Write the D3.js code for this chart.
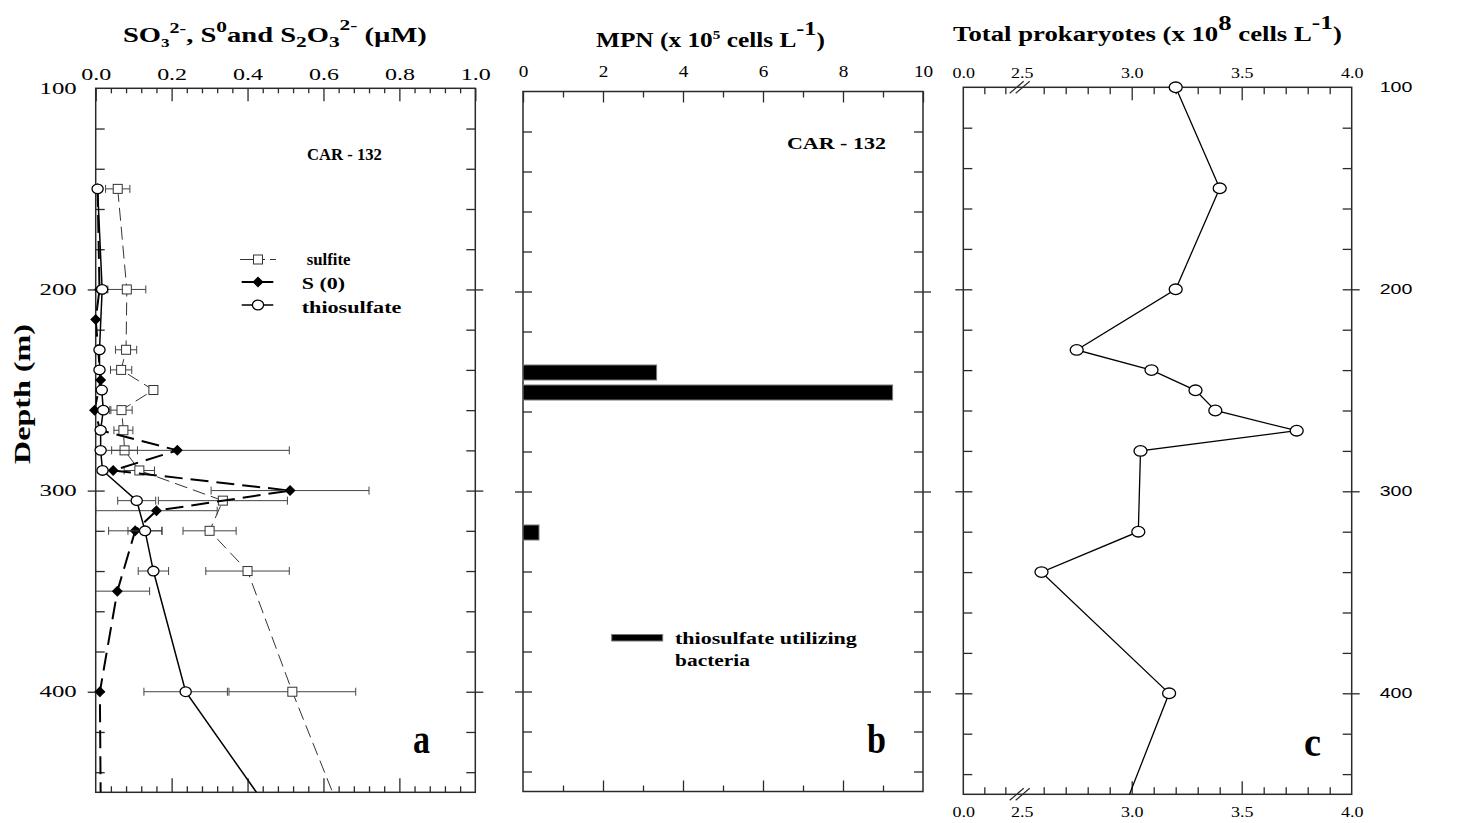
<!DOCTYPE html>
<html><head><meta charset="utf-8">
<script src="https://cdn.jsdelivr.net/npm/d3@7"></script>
<style>
body{margin:0;background:#fff}
svg{display:block}
text{fill:#000}
</style>
</head><body>
<svg id="chart" width="1460" height="823" font-family='"Liberation Serif","Times New Roman",serif'></svg>
<script>
// ---------------- DATA ----------------
// Panel a : sulfite, S(0), thiosulfate (µM) vs depth (m)
const sulfiteDepth = [150, 200, 230, 240, 250, 260, 270, 280, 290, 305, 320, 340, 400, 500];
const sulfiteVal   = [0.058, 0.082, 0.080, 0.067, 0.152, 0.068, 0.073, 0.076, 0.115, 0.335, 0.300, 0.400, 0.518, 0.730];
const sulfiteErr   = [0.032, 0.050, 0.028, 0.028, 0, 0.028, 0.025, 0.034, 0.040, 0.170, 0.070, 0.110, 0.167, 0];

const s0Depth = [150, 200, 215, 245, 260, 270, 280, 290, 300, 310, 320, 350, 400, 500];
const s0Val   = [0.005, 0.010, 0.000, 0.013, -0.003, 0.012, 0.215, 0.046, 0.512, 0.160, 0.104, 0.057, 0.011, 0.015];
const s0Err   = [0, 0, 0, 0, 0.040, 0, 0.295, 0, 0.208, 0.160, 0.070, 0.085, 0, 0];

const thioDepth = [150, 200, 230, 240, 250, 260, 270, 280, 290, 305, 320, 340, 400, 500];
const thioVal   = [0.005, 0.017, 0.010, 0.010, 0.016, 0.020, 0.013, 0.013, 0.018, 0.108, 0.130, 0.152, 0.237, 0.610];
const thioErr   = [0, 0, 0, 0, 0, 0, 0, 0, 0, 0.050, 0.045, 0.040, 0.110, 0];

// Panel b : MPN of thiosulfate utilizing bacteria (x10^5 cells/L)
const mpnDepth = [240, 250, 320];
const mpnVal   = [3.34, 9.24, 0.40];

// Panel c : total prokaryotes (x10^8 cells/L)
const totDepth = [100, 150, 200, 230, 240, 250, 260, 270, 280, 320, 340, 400, 500];
const totVal   = [3.20, 3.40, 3.20, 2.75, 3.09, 3.29, 3.38, 3.75, 3.04, 3.03, 2.59, 3.17, 2.81];

// Axis ticks / labels
const depthDomain = [100, 450];
const depthMinor  = [120, 140, 160, 180, 200, 220, 240, 260, 280, 300, 320, 340, 360, 380, 400, 420, 440];
const depthMajor  = [200, 300, 400];
const depthLabels = [100, 200, 300, 400];
const aMajor = [0, 0.2, 0.4, 0.6, 0.8, 1.0];
const aMinor = [0.04,0.08,0.12,0.16,0.24,0.28,0.32,0.36,0.44,0.48,0.52,0.56,0.64,0.68,0.72,0.76,0.84,0.88,0.92,0.96];
const bMajor = [0, 2, 4, 6, 8, 10];
const bMinor = [1, 3, 5, 7, 9];
const cLabelVals = [0, 2.5, 3.0, 3.5, 4.0];
const cLabels    = ["0.0", "2.5", "3.0", "3.5", "4.0"];
const cMajor = [3.0, 3.5];
const cMinor = [0.9, 1.8, 2.6, 2.7, 2.8, 2.9, 3.1, 3.2, 3.3, 3.4, 3.6, 3.7, 3.8, 3.9];

// ---------------- SCALES ----------------
const yA = d3.scaleLinear().domain(depthDomain).range([88.3, 792.3]);
const yB = d3.scaleLinear().domain(depthDomain).range([91.5, 791.5]);
const yC = d3.scaleLinear().domain(depthDomain).range([87.3, 794.3]);
const xA = d3.scaleLinear().domain([0, 1]).range([95.7, 475.3]);
const xB = d3.scaleLinear().domain([0, 10]).range([523, 923]);
const xC = d3.scaleLinear().domain([0, 2.5, 4.0]).range([963.3, 1021.7, 1351.7]);

const SERIF = '"Liberation Serif","Times New Roman",serif';
const SANS = '"Liberation Sans",Arial,sans-serif';
const svg = d3.select("#chart");
const AX = "#2a2a2a";

function fit(sel, x0, x1, base) {
  const bb = sel.node().getBBox();
  const s = (x1 - x0) / bb.width;
  sel.attr("transform", `translate(${x0 - bb.x * s},${base}) scale(${s},1)`);
  return sel;
}
function stretchLabels(g, sx) {
  g.selectAll(".tick text").each(function () {
    const t = d3.select(this);
    const x = +t.attr("x") || 0;
    t.attr("x", x / sx).attr("transform", `scale(${sx},1)`);
  });
}
function styleAxis(g, fs, family) {
  g.select(".domain").remove();
  g.attr("font-family", family || SERIF);
  g.selectAll(".tick line").attr("stroke", AX).attr("stroke-width", 1.3);
  g.selectAll(".tick text").attr("font-size", fs).style("font-family", family || SERIF).attr("fill", "#000");
}

function frame(x, y) {
  const xr = x.range(), yr = y.range();
  const x0 = xr[0], x1 = xr[xr.length - 1];
  const g = svg.append("g");
  const add = (axis, tx) => g.append("g").attr("transform", `translate(${tx},0)`).call(axis).call(s => styleAxis(s, 14));
  add(d3.axisLeft(y).tickValues(depthMinor).tickSize(-9).tickSizeOuter(0).tickFormat(""), x0);
  add(d3.axisLeft(y).tickValues(depthMajor).tickSize(8).tickSizeOuter(0).tickFormat(""), x0);
  add(d3.axisRight(y).tickValues(depthMinor).tickSize(-9).tickSizeOuter(0).tickFormat(""), x1);
  add(d3.axisRight(y).tickValues(depthMajor).tickSize(8).tickSizeOuter(0).tickFormat(""), x1);
  g.append("rect").attr("x", x0).attr("y", yr[0]).attr("width", x1 - x0).attr("height", yr[1] - yr[0])
    .attr("fill", "none").attr("stroke", AX).attr("stroke-width", 1.5);
  return g;
}
function hAxis(x, yPos, vals, len, top, labels, fs, sx, pad, family) {
  const ax = (top ? d3.axisTop(x) : d3.axisBottom(x)).tickValues(vals).tickSize(-len).tickSizeOuter(0);
  if (labels) ax.tickFormat(labels).tickPadding(pad); else ax.tickFormat("");
  const g = svg.append("g").attr("transform", `translate(0,${yPos})`).call(ax);
  styleAxis(g, fs, family);
  if (labels) stretchLabels(g, sx);
  return g;
}

// ================= PANEL A =================
frame(xA, yA);
{
  const g = svg.append("g").attr("transform", `translate(${xA(0)},0)`)
    .call(d3.axisLeft(yA).tickValues(depthLabels).tickSize(0).tickPadding(19).tickFormat(d3.format("d")));
  styleAxis(g, 16); g.selectAll(".tick line").remove(); stretchLabels(g, 1.55);
}
hAxis(xA, yA.range()[0], aMinor, 5, true, null);
hAxis(xA, yA.range()[0], aMajor, 13, true, d3.format(".1f"), 16, 1.5, 8);
hAxis(xA, yA.range()[1], aMinor, 6, false, null);
hAxis(xA, yA.range()[1], aMajor.slice(1, 5), 14, false, null);

svg.append("clipPath").attr("id", "clipA").append("rect")
  .attr("x", xA(0)).attr("y", yA.range()[0] - 20).attr("width", xA(1) - xA(0)).attr("height", yA.range()[1] - yA.range()[0] + 20);

function series(depth, val, err, opts) {
  const pts = depth.map((d, i) => ({ d, v: val[i], e: err[i] }));
  const g = svg.append("g");
  g.append("path").datum(pts).attr("clip-path", "url(#clipA)")
    .attr("d", d3.line().x(p => xA(p.v)).y(p => yA(p.d)))
    .attr("fill", "none").attr("stroke", opts.stroke).attr("stroke-width", opts.width)
    .attr("stroke-dasharray", opts.dash || null);
  const inside = pts.filter(p => p.d <= depthDomain[1]);
  const eb = g.append("g").attr("clip-path", "url(#clipA)").attr("stroke", "#444").attr("stroke-width", 1);
  inside.filter(p => p.e > 0).forEach(p => {
    const y = yA(p.d);
    eb.append("line").attr("x1", xA(p.v - p.e)).attr("x2", xA(p.v + p.e)).attr("y1", y).attr("y2", y);
    eb.append("line").attr("x1", xA(p.v - p.e)).attr("x2", xA(p.v - p.e)).attr("y1", y - 4).attr("y2", y + 4);
    eb.append("line").attr("x1", xA(p.v + p.e)).attr("x2", xA(p.v + p.e)).attr("y1", y - 4).attr("y2", y + 4);
  });
  const m = g.selectAll(".m").data(inside).join("g").attr("transform", p => `translate(${xA(p.v)},${yA(p.d)})`);
  opts.marker(m);
}
const squareMk = s => s.append("rect").attr("x", -4.5).attr("y", -4.5).attr("width", 9).attr("height", 9)
  .attr("fill", "#fff").attr("stroke", "#333").attr("stroke-width", 1);
const diamondMk = s => s.append("path").attr("d", "M0,-5.5L5.5,0L0,5.5L-5.5,0Z").attr("fill", "#000");
const circleMk = (s, rx, ry) => s.append("ellipse").attr("rx", rx || 5.6).attr("ry", ry || 4.8)
  .attr("fill", "#fff").attr("stroke", "#000").attr("stroke-width", 1.3);

series(sulfiteDepth, sulfiteVal, sulfiteErr, { stroke: "#333", width: 1, dash: "13,6", marker: squareMk });
series(s0Depth, s0Val, s0Err, { stroke: "#000", width: 2, dash: "18,8", marker: diamondMk });
series(thioDepth, thioVal, thioErr, { stroke: "#000", width: 1.5, marker: s => circleMk(s) });

// legend a
{
  const g = svg.append("g");
  g.append("line").attr("x1", 240).attr("x2", 265).attr("y1", 259.5).attr("y2", 259.5).attr("stroke", "#333");
  g.append("line").attr("x1", 270).attr("x2", 276).attr("y1", 259.5).attr("y2", 259.5).attr("stroke", "#333");
  squareMk(g.append("g").attr("transform", "translate(258,259.5)"));
  g.append("line").attr("x1", 241.7).attr("x2", 273.3).attr("y1", 282).attr("y2", 282).attr("stroke", "#000").attr("stroke-width", 2);
  diamondMk(g.append("g").attr("transform", "translate(258,282)"));
  g.append("line").attr("x1", 241.7).attr("x2", 273.3).attr("y1", 305).attr("y2", 305).attr("stroke", "#000").attr("stroke-width", 1.3);
  circleMk(g.append("g").attr("transform", "translate(258,305)"));
  fit(g.append("text").attr("font-size", 17).attr("font-weight", "bold").text("sulfite"), 306.7, 351, 265);
  fit(g.append("text").attr("font-size", 17).attr("font-weight", "bold").text("S (0)"), 301.7, 345, 289);
  fit(g.append("text").attr("font-size", 17).attr("font-weight", "bold").text("thiosulfate"), 301.7, 402, 312.5);
}
fit(svg.append("text").attr("font-size", 16).attr("font-weight", "bold").text("CAR - 132"), 307, 382, 160);
fit(svg.append("text").attr("font-size", 42).attr("font-weight", "bold").text("a"), 413, 430, 753);

// title a
{
  const t = svg.append("text").attr("font-size", 20).attr("font-weight", "bold");
  t.append("tspan").text("SO");
  t.append("tspan").attr("font-size", 12).attr("dy", 5).text("3");
  t.append("tspan").attr("font-size", 14).attr("dy", -14).text("2-");
  t.append("tspan").attr("dy", 9).text(", S");
  t.append("tspan").attr("font-size", 15).attr("dy", -10).text("0");
  t.append("tspan").attr("dy", 10).text("and S");
  t.append("tspan").attr("font-size", 15).attr("dy", 5).text("2");
  t.append("tspan").attr("dy", -5).text("O");
  t.append("tspan").attr("font-size", 15).attr("dy", 5).text("3");
  t.append("tspan").attr("font-size", 15).attr("dy", -17).text("2-");
  t.append("tspan").attr("dy", 12).text(" (µM)");
  fit(t, 123, 427, 42);
}
// Depth label
svg.append("text").attr("font-size", 19).attr("font-weight", "bold").attr("text-anchor", "middle")
  .attr("transform", "translate(22,394) scale(1.25,1) rotate(-90)").attr("dy", "0.35em")
  .attr("textLength", 140).attr("lengthAdjust", "spacingAndGlyphs").text("Depth (m)");

// ================= PANEL B =================
frame(xB, yB);
hAxis(xB, yB.range()[0], bMinor, 6, true, null);
hAxis(xB, yB.range()[0], bMajor, 11, true, d3.format("d"), 16, 1.2, 15);
hAxis(xB, yB.range()[1], bMinor, 6, false, null);
hAxis(xB, yB.range()[1], bMajor.slice(1, 5), 11, false, null);

svg.append("g").selectAll("rect").data(mpnDepth.map((d, i) => ({ d, v: mpnVal[i] }))).join("rect")
  .attr("x", xB(0)).attr("y", p => yB(p.d) - 6.5)
  .attr("width", p => xB(p.v) - xB(0)).attr("height", 15)
  .attr("fill", "#000").attr("stroke", "#777").attr("stroke-width", 1);

fit(svg.append("text").attr("font-size", 16).attr("font-weight", "bold").text("CAR - 132"), 787, 886, 149);
fit(svg.append("text").attr("font-size", 42).attr("font-weight", "bold").text("b"), 867, 886, 753);
{
  const g = svg.append("g");
  g.append("rect").attr("x", 611.7).attr("y", 634.5).attr("width", 51).attr("height", 6.5).attr("fill", "#000").attr("stroke", "#777").attr("stroke-width", 1);
  fit(g.append("text").attr("font-size", 16).attr("font-weight", "bold").text("thiosulfate utilizing"), 675, 857, 643.5);
  fit(g.append("text").attr("font-size", 16).attr("font-weight", "bold").text("bacteria"), 675, 750, 666);
}
{
  const t = svg.append("text").attr("font-size", 20).attr("font-weight", "bold");
  t.append("tspan").text("MPN (x 10");
  t.append("tspan").attr("font-size", 12).attr("dy", -8).text("5");
  t.append("tspan").attr("dy", 8).text(" cells L");
  t.append("tspan").attr("font-size", 19).attr("dy", -12).text("-1");
  t.append("tspan").attr("dy", 12).text(")");
  fit(t, 596, 825, 47);
}

// ================= PANEL C =================
frame(xC, yC);
{
  const g = svg.append("g").attr("transform", `translate(${xC.range()[2]},0)`)
    .call(d3.axisRight(yC).tickValues(depthLabels).tickSize(0).tickPadding(28).tickFormat(d3.format("d")));
  styleAxis(g, 14, SANS); g.selectAll(".tick line").remove(); stretchLabels(g, 1.4);
}
hAxis(xC, yC.range()[0], cMinor, 7, true, null);
hAxis(xC, yC.range()[0], cMajor, 13, true, null);
{
  const ax = d3.axisTop(xC).tickValues(cLabelVals).tickSize(0).tickPadding(9).tickFormat((d, i) => cLabels[i]);
  const g = svg.append("g").attr("transform", `translate(0,${yC.range()[0]})`).call(ax);
  styleAxis(g, 15); g.selectAll(".tick line").remove(); stretchLabels(g, 1.2);
}
hAxis(xC, yC.range()[1], cMinor, 7, false, null);
hAxis(xC, yC.range()[1], cMajor, 13, false, null);
{
  const ax = d3.axisBottom(xC).tickValues(cLabelVals).tickSize(0).tickPadding(12).tickFormat((d, i) => cLabels[i]);
  const g = svg.append("g").attr("transform", `translate(0,${yC.range()[1]})`).call(ax);
  styleAxis(g, 15); g.selectAll(".tick line").remove(); stretchLabels(g, 1.2);
}
// axis break marks
[yC.range()[0], yC.range()[1]].forEach(yy => {
  const xb = xC(2.5);
  [-12, -6].forEach(off => {
    svg.append("line").attr("x1", xb + off).attr("y1", yy + 6).attr("x2", xb + off + 14).attr("y2", yy - 6)
      .attr("stroke", AX).attr("stroke-width", 1.2);
  });
});
svg.append("clipPath").attr("id", "clipC").append("rect")
  .attr("x", xC.range()[0]).attr("y", yC.range()[0] - 10).attr("width", xC.range()[2] - xC.range()[0]).attr("height", yC.range()[1] - yC.range()[0] + 10);
{
  const pts = totDepth.map((d, i) => ({ d, v: totVal[i] }));
  svg.append("path").datum(pts).attr("clip-path", "url(#clipC)")
    .attr("d", d3.line().x(p => xC(p.v)).y(p => yC(p.d)))
    .attr("fill", "none").attr("stroke", "#000").attr("stroke-width", 1.3);
  const m = svg.append("g").selectAll("g").data(pts.filter(p => p.d <= depthDomain[1])).join("g")
    .attr("transform", p => `translate(${xC(p.v)},${yC(p.d)})`);
  circleMk(m, 6.5, 5.3);
}
fit(svg.append("text").attr("font-size", 42).attr("font-weight", "bold").text("c"), 1304, 1321, 756);
{
  const t = svg.append("text").attr("font-size", 20).attr("font-weight", "bold");
  t.append("tspan").text("Total prokaryotes  (x 10");
  t.append("tspan").attr("font-size", 20).attr("dy", -11).text("8");
  t.append("tspan").attr("dy", 11).text(" cells L");
  t.append("tspan").attr("font-size", 19).attr("dy", -12).text("-1");
  t.append("tspan").attr("dy", 12).text(")");
  fit(t, 953, 1342, 41);
}
</script>
</body></html>
